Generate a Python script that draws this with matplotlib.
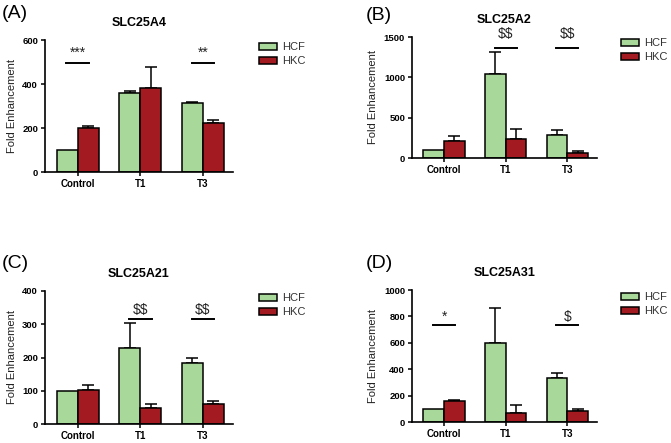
import matplotlib
matplotlib.use('Agg')
import matplotlib.pyplot as plt
from matplotlib.patches import Patch
import numpy as np

plt.rcParams['font.family'] = ['Liberation Sans', 'DejaVu Sans']
plt.rcParams['text.parse_math'] = False

categories = ['Control', 'T1', 'T3']

# panel A - SLC25A4
a_hcf = [100, 360, 312]
a_hcf_err = [0, 6, 8]
a_hkc = [200, 382, 223]
a_hkc_err = [10, 96, 15]
a_sig = [(0, '***'), (2, '**')]

# panel B - SLC25A2
b_hcf = [100, 1036, 288]
b_hcf_err = [0, 280, 62]
b_hkc = [207, 238, 62]
b_hkc_err = [70, 124, 20]
b_sig = [(1, '$$'), (2, '$$')]

# panel C - SLC25A21
c_hcf = [100, 229, 184]
c_hcf_err = [0, 76, 16]
c_hkc = [102, 47, 60]
c_hkc_err = [16, 13, 8]
c_sig = [(1, '$$'), (2, '$$')]

# panel D - SLC25A31
d_hcf = [100, 597, 332]
d_hcf_err = [0, 265, 40]
d_hkc = [157, 68, 81]
d_hkc_err = [13, 59, 20]
d_sig = [(0, '*'), (2, '$')]

GREEN = '#a8d89a'
RED = '#a31b20'
W, H = 671, 443


def px_axes(fig, x0, x1, y0, y1):
    return fig.add_axes([x0 / W, 1 - y1 / H, (x1 - x0) / W, (y1 - y0) / H])


def draw_panel(ax, title, hcf, hcf_err, hkc, hkc_err, ymax, yticks,
               sig, sig_line_y, sig_text_y):
    x = np.arange(len(categories))
    w = 0.336
    ax.bar(x - w / 2, hcf, w, color=GREEN, edgecolor='black', linewidth=1.1, zorder=2)
    ax.bar(x + w / 2, hkc, w, color=RED, edgecolor='black', linewidth=1.1, zorder=2)
    for xs, vals, errs in [(x - w / 2, hcf, hcf_err), (x + w / 2, hkc, hkc_err)]:
        for xi, v, e in zip(xs, vals, errs):
            if e > 0:
                ax.errorbar(xi, v, yerr=[[0], [e]], fmt='none', ecolor='black',
                            elinewidth=1.1, capsize=4.5, capthick=1.1, zorder=1)
    for i, label in sig:
        ax.plot([i - 0.18, i + 0.18], [sig_line_y, sig_line_y], color='black',
                lw=1.4, clip_on=False)
        ax.text(i, sig_text_y, label, ha='center', va='center', fontsize=10,
                color='#222222', clip_on=False)
    ax.set_xlim(-0.52, 2.48)
    ax.set_ylim(0, ymax)
    ax.set_yticks(yticks)
    ax.set_xticks(x)
    ax.set_xticklabels(categories, fontweight='bold', fontsize=7)
    for lab in ax.get_yticklabels():
        lab.set_fontweight('bold')
        lab.set_fontsize(6.8)
    ax.spines['top'].set_visible(False)
    ax.spines['right'].set_visible(False)
    ax.spines['left'].set_linewidth(1.2)
    ax.spines['bottom'].set_linewidth(1.2)
    ax.tick_params(direction='out', length=3, width=1.1, pad=2)
    ax.set_ylabel('Fold Enhancement', fontsize=8, labelpad=4, color='#222222')
    ax.set_title(title, fontsize=9, fontweight='bold', pad=10)


fig = plt.figure(figsize=(W / 100, H / 100), dpi=100)

ax_a = px_axes(fig, 45, 233, 40, 172)
draw_panel(ax_a, 'SLC25A4', a_hcf, a_hcf_err, a_hkc, a_hkc_err, 600,
           [0, 200, 400, 600], a_sig, 494, 540)
ax_b = px_axes(fig, 412, 597, 37, 158)
draw_panel(ax_b, 'SLC25A2', b_hcf, b_hcf_err, b_hkc, b_hkc_err, 1500,
           [0, 500, 1000, 1500], b_sig, 1364, 1540)
ax_c = px_axes(fig, 45, 233, 291, 424)
draw_panel(ax_c, 'SLC25A21', c_hcf, c_hcf_err, c_hkc, c_hkc_err, 400,
           [0, 100, 200, 300, 400], c_sig, 317, 344)
ax_d = px_axes(fig, 412, 597, 290, 422)
draw_panel(ax_d, 'SLC25A31', d_hcf, d_hcf_err, d_hkc, d_hkc_err, 1000,
           [0, 200, 400, 600, 800, 1000], d_sig, 737, 797)

handles = [Patch(facecolor=GREEN, edgecolor='black', linewidth=1.1, label='HCF'),
           Patch(facecolor=RED, edgecolor='black', linewidth=1.1, label='HKC')]
for lx, ly in [(259, 42), (621, 38), (259, 293), (621, 292)]:
    fig.legend(handles=handles, loc='upper left',
               bbox_to_anchor=(lx / W, 1 - ly / H), frameon=False,
               fontsize=8, handlelength=1.6, handleheight=0.6,
               labelspacing=0.4, handletextpad=0.5, borderpad=0,
               borderaxespad=0, labelcolor='#333333')

for lab, lx, ly in [('(A)', 2, 14), ('(B)', 366, 16), ('(C)', 2, 263), ('(D)', 366, 263)]:
    fig.text(lx / W, 1 - ly / H, lab, fontsize=14, ha='left', va='center')

fig.savefig('out.png', dpi=100)
